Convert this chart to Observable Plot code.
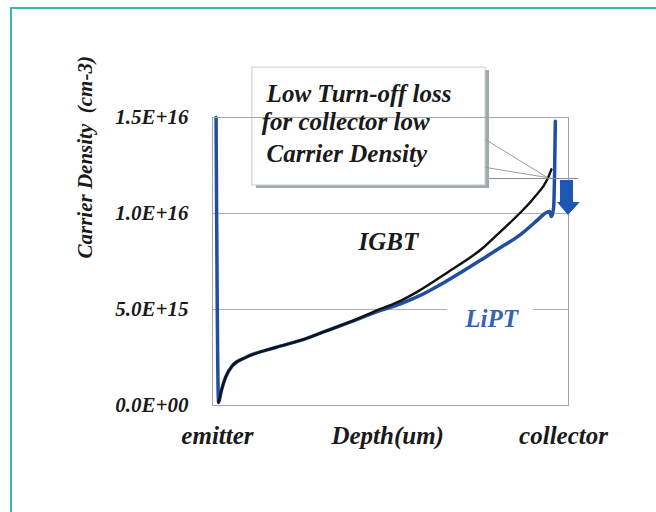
<!DOCTYPE html>
<html><head><meta charset="utf-8">
<script src="https://cdn.jsdelivr.net/npm/d3@7"></script>
<script src="https://cdn.jsdelivr.net/npm/@observablehq/plot@0.6"></script>
<style>
html,body{margin:0;padding:0;background:#fff;overflow:hidden;width:656px;height:512px}
#frame{position:absolute;left:10px;top:7px;width:700px;height:600px;border-left:2px solid #35b9b9;border-top:2px solid #35b9b9}
#chart{position:absolute;left:0;top:0}
#chart svg text{font-family:"Liberation Serif","Times New Roman","DejaVu Serif",serif !important}
</style></head><body><div id="frame"></div><div id="chart"></div>
<script>
// ---- data (depth in % of wafer thickness, density in cm^-3) ----
const liptDepth   = [1.0, 1.7, 2.5, 3.65, 5.6, 9.3, 17.7, 24.7, 31.0, 38.8, 47.2, 52.8, 57.6, 66.0, 76.1, 80.9, 86.5, 90.2, 92.1, 93.8, 94.7, 95.2, 95.8, 96.1, 96.3];
const liptDensity = [1.5e16, 0.16e15, 0.78e15, 1.46e15, 2.08e15, 2.5e15, 3.02e15, 3.39e15, 3.82e15, 4.35e15, 4.95e15, 5.3e15, 5.67e15, 6.51e15, 7.66e15, 8.23e15, 8.9e15, 9.48e15, 9.8e15, 1.005e16, 1.01e16, 9.84e15, 1.026e16, 1.22e16, 1.48e16];
const igbtDepth   = [1.7, 2.5, 3.65, 5.6, 9.3, 17.7, 24.7, 31.0, 38.8, 47.2, 52.8, 57.6, 66.0, 76.1, 80.9, 86.5, 90.2, 94.1, 95.2];
const igbtDensity = [0.16e15, 0.78e15, 1.46e15, 2.08e15, 2.5e15, 3.02e15, 3.39e15, 3.82e15, 4.37e15, 5.03e15, 5.45e15, 5.93e15, 6.93e15, 8.23e15, 9.06e15, 1.005e16, 1.08e16, 1.18e16, 1.23e16];

const yTicks = [0, 5e15, 1e16, 1.5e16];
const yTickLabels = ["0.0E+00", "5.0E+15", "1.0E+16", "1.5E+16"];
const xLabels = ["emitter", "Depth(um)", "collector"];
const xLabelPos = [1.4, 49.2, 98.6];
const yTitle = "Carrier Density  (cm-3)";
const seriesNames = ["IGBT", "LiPT"];
const seriesLabelPos = [[49.4, 8.49e15], [78.4, 4.53e15]];
const calloutLines = ["Low Turn-off loss", "for collector low", "Carrier Density"];
const calloutX = [15.2, 13.8, 15.2];
const calloutY = [1.625e16, 1.474e16, 1.312e16];

// annotation geometry in data coordinates
const calloutBox = {x1: 11.2, x2: 76.7, y1: 1.146e16, y2: 1.760e16};
const pointerA = [[76.7, 1.385e16], [94.1, 1.187e16], [76.7, 1.24e16]];
const levelLine = [[72.5, 1.182e16], [102.5, 1.182e16]];
const arrowPts = [[97.75, 1.172e16], [101.4, 1.172e16], [101.4, 1.057e16], [103.3, 1.057e16], [100, 0.99e16], [96.9, 1.057e16], [97.75, 1.057e16]];
const liptBg = {x1: 66.0, x2: 90.2, y1: 4.4e15, y2: 5.5e15};

const lipt = liptDepth.map((d, i) => ({depth: d, density: liptDensity[i]}));
const igbt = igbtDepth.map((d, i) => ({depth: d, density: igbtDensity[i]}));

const font = "Liberation Serif";
const plot = Plot.plot({
  width: 656, height: 512,
  marginLeft: 212, marginRight: 88, marginTop: 117, marginBottom: 107,
  x: {domain: [0, 100], axis: null},
  y: {domain: [0, 1.5e16], axis: null},
  style: {fontFamily: font, fontWeight: "bold", fontStyle: "italic", background: "transparent", color: "#1a1a1a"},
  marks: [
    Plot.ruleY([5e15, 1e16], {stroke: "#b0b0b0", strokeWidth: 1}),
    Plot.rect([liptBg], {x1: "x1", x2: "x2", y1: "y1", y2: "y2", fill: "white"}),
    Plot.axisY(yTicks, {tickSize: 0, tickPadding: 24, tickFormat: (d, i) => yTickLabels[i], fontSize: 21, fill: "#1a1a1a", ariaLabel: "yticks"}),
    Plot.line(lipt, {x: "depth", y: "density", stroke: "#1f4f9e", strokeWidth: 3.5, curve: "monotone-x"}),
    Plot.line(igbt, {x: "depth", y: "density", stroke: "#111", strokeWidth: 2.4, curve: "monotone-x"}),
    Plot.line(levelLine, {x: d => d[0], y: d => d[1], stroke: "#8a8a8a", strokeWidth: 1}),
    // callout shadow + box
    Plot.rect([calloutBox], {x1: "x1", x2: "x2", y1: "y1", y2: "y2", fill: "#a3a8ad", dx: 4, dy: 3}),
    Plot.rect([calloutBox], {x1: "x1", x2: "x2", y1: "y1", y2: "y2", fill: "white", stroke: "#c3ccd4", strokeWidth: 1}),
    Plot.line(pointerA, {x: d => d[0], y: d => d[1], stroke: "#9a9a9a", strokeWidth: 1}),
    Plot.frame({stroke: "#a5a5a5", strokeWidth: 1}),
    Plot.text(calloutLines, {x: (d, i) => calloutX[i], y: (d, i) => calloutY[i], textAnchor: "start", fontSize: 25, fontFamily: font, fill: "#1a1a1a", ariaLabel: "callout"}),
    Plot.text(seriesNames, {x: (d, i) => seriesLabelPos[i][0], y: (d, i) => seriesLabelPos[i][1], fill: (d, i) => i ? "#3565b0" : "#1a1a1a", fontSize: 25, fontFamily: font, ariaLabel: "series"}),
    Plot.text(xLabels, {x: (d, i) => xLabelPos[i], frameAnchor: "bottom", dy: 38, fontSize: 25, fontFamily: font, fill: "#1a1a1a", ariaLabel: "xlabels"}),
    Plot.text([yTitle], {frameAnchor: "left", dx: -127, dy: -3, rotate: -90, fontSize: 21, fontFamily: font, fill: "#1a1a1a", ariaLabel: "ytitle"})
  ]
});
const svg = d3.select(plot);
const sx = plot.scale("x"), sy = plot.scale("y");
// arrow drawn from scale-projected points
svg.append("path")
  .attr("d", "M" + arrowPts.map(p => [sx.apply(p[0]), sy.apply(p[1])].join(",")).join("L") + "Z")
  .attr("fill", "#1e56b4");
const setLen = (sel, lens) => svg.selectAll(sel).each(function(d, i) {
  d3.select(this).attr("textLength", lens[i]).attr("lengthAdjust", "spacingAndGlyphs");
});
setLen('g[aria-label="callout"] text', [193, 178, 163]);
setLen('g[aria-label="xlabels"] text', [77, 115, 92]);
setLen('g[aria-label="series"] text', [63, 52]);
setLen('g[aria-label="ytitle"] text', [237]);
setLen('g[aria-label="yticks"] text', [85, 85, 85, 85]);
document.getElementById("chart").appendChild(plot);
</script></body></html>
